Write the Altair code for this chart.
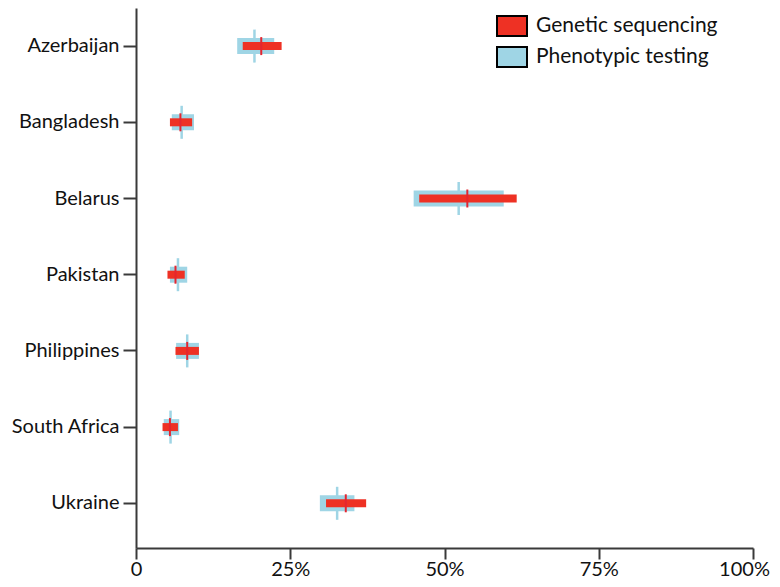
import altair as alt
import pandas as pd

countries = ["Azerbaijan", "Bangladesh", "Belarus", "Pakistan", "Philippines", "South Africa", "Ukraine"]

# Genetic sequencing: lower, upper, point estimate (%)
gen_lo = [17.3, 5.5, 45.9, 5.1, 6.4, 4.3, 30.8]
gen_hi = [23.6, 9.1, 61.7, 7.9, 10.2, 6.8, 37.3]
gen_pt = [20.3, 7.2, 53.7, 6.4, 8.3, 5.5, 34.0]

# Phenotypic testing: lower, upper, point estimate (%)
phe_lo = [16.4, 5.8, 45.0, 5.5, 6.5, 4.5, 29.8]
phe_hi = [22.4, 9.4, 59.6, 8.3, 10.2, 7.0, 35.4]
phe_pt = [19.2, 7.4, 52.3, 6.8, 8.3, 5.6, 32.6]

series = ["Genetic sequencing", "Phenotypic testing"]
x_ticks = [0, 25, 50, 75, 100]

RED = "#ee3124"
RED_TICK = "#e32630"
BLUE = "#9fd5e5"
FONT = "Lato"
FS = 21

gen = pd.DataFrame({"country": countries, "lo": gen_lo, "hi": gen_hi, "pt": gen_pt, "test": series[0]})
phe = pd.DataFrame({"country": countries, "lo": phe_lo, "hi": phe_hi, "pt": phe_pt, "test": series[1]})

yscale = alt.Scale(domain=countries, paddingInner=0, paddingOuter=0.0433, align=0)
xscale = alt.Scale(domain=[0, 100], nice=False)
color = alt.Color("test:N", scale=alt.Scale(domain=series, range=[RED, BLUE]),
                  legend=alt.Legend(title=None, orient="none", legendX=365, legendY=7,
                                    symbolType="M-1.5,-1H1.5V1H-1.5Z", symbolSize=400,
                                    symbolStrokeColor="black", symbolStrokeWidth=2,
                                    labelFont=FONT, labelFontSize=FS, labelColor="#111",
                                    labelLimit=0, labelOffset=13, rowPadding=3, padding=0))

xaxis = alt.Axis(title=None, values=x_ticks, labelExpr="datum.value == 0 ? '0' : datum.value + '%'",
                 labelFlush=False, tickSize=11, tickWidth=2, domainWidth=2,
                 domainColor="#3a3a3a", tickColor="#3a3a3a", labelFont=FONT, labelFontSize=20,
                 labelColor="#111", labelPadding=0, grid=False,
                 labelOffset={"condition": {"test": "datum.value == 100", "value": -9}, "value": 0})
yaxis = alt.Axis(title=None, tickSize=13, tickWidth=2, domainWidth=2, domainColor="#3a3a3a",
                 tickColor="#3a3a3a", labelFont=FONT, labelFontSize=20, labelColor="#111",
                 labelPadding=4, grid=False)

y = alt.Y("country:N", scale=yscale, axis=yaxis, sort=countries)

blue_bar = alt.Chart(phe).mark_bar(size=16).encode(
    x=alt.X("lo:Q", scale=xscale, axis=xaxis), x2="hi:Q", y=y, color=color)
blue_tick = alt.Chart(phe).mark_tick(size=33, thickness=2.5, color=BLUE, opacity=1).encode(
    x=alt.X("pt:Q", scale=xscale), y=y)
red_bar = alt.Chart(gen).mark_bar(size=8).encode(
    x=alt.X("lo:Q", scale=xscale), x2="hi:Q", y=y, color=color)
red_tick = alt.Chart(gen).mark_tick(size=18, thickness=2, color=RED_TICK, opacity=1).encode(
    x=alt.X("pt:Q", scale=xscale), y=y)

chart = alt.layer(blue_bar, blue_tick, red_bar, red_tick).properties(
    width=617, height=540,
    autosize=alt.AutoSizeParams(type="none"),
    padding={"left": 128, "top": 0, "right": 19, "bottom": 31},
).configure_view(stroke=None)

chart.save("out.html", embed_options={"renderer": "svg", "actions": False})
